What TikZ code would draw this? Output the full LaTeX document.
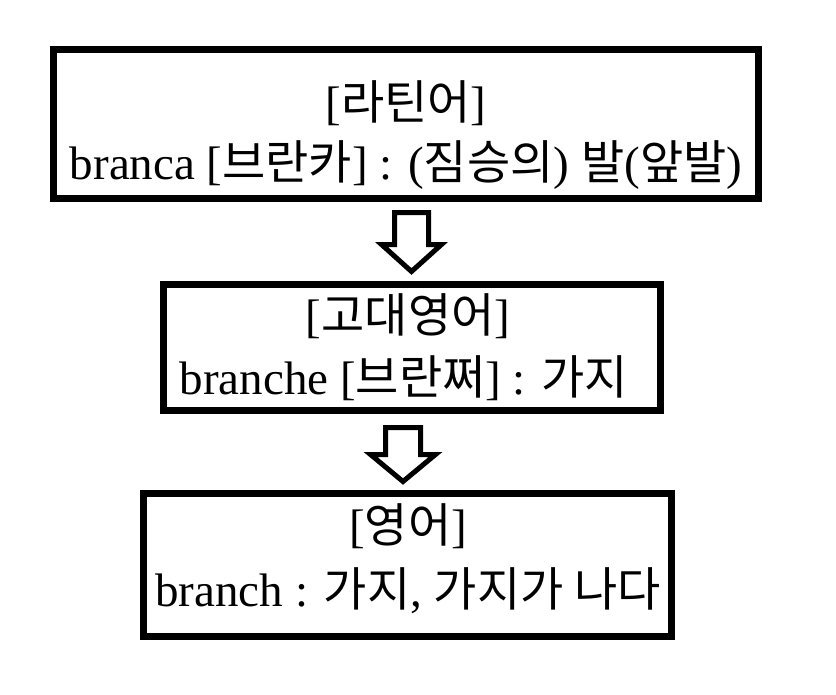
\documentclass[tikz,border=0pt]{standalone}
\usepackage{fontspec}
\setmainfont{Liberation Serif}
\newfontfamily\krfont{Noto Sans CJK KR}
\newcommand{\kr}[1]{{\krfont #1}}
\tikzset{
  etbox/.style={draw=black, line width=7pt, fill=white, inner sep=0pt},
  etline/.style={font=\fontsize{47}{56}\selectfont, inner sep=0pt, anchor=center},
  etarrow/.style={line width=5pt, draw=black, fill=white, line join=miter},
}
\begin{document}
\begin{tikzpicture}[x=1pt, y=-1pt]
\fill[white] (0,0) rectangle (836,694);
\useasboundingbox (0,0) rectangle (836,694);
\node[etbox, minimum width=705pt, minimum height=149pt] (latin) at (406,124) {};
\node[etbox, minimum width=497pt, minimum height=126pt] (oldeng) at (412,347.5) {};
\node[etbox, minimum width=528pt, minimum height=143pt] (eng) at (407.5,565) {};
\node[etline] (latinhead) at (406,103) {[\kr{라틴어}]};
\node[etline] (latinword) at (406,165) {branca [\kr{브란카}] : (\kr{짐승의}) \kr{발}(\kr{앞발})};
\node[etline] (oldenghead) at (408,316) {[\kr{고대영어}]};
\node[etline] (oldengword) at (404,378) {branche [\kr{브란쩌}] : \kr{가지}};
\node[etline] (enghead) at (408,526) {[\kr{영어}]};
\node[etline] (engword) at (408,591) {branch : \kr{가지}, \kr{가지가 나다}};
\coordinate (arrone) at (411.5,212.5);
\coordinate (arrtwo) at (403,427.5);
\draw[etarrow] (arrone) ++(-17,0) -- ++(34,0) -- ++(0,32) -- ++(13,0) -- ++(-30,27) -- ++(-30,-27) -- ++(13,0) -- cycle;
\draw[etarrow] (arrtwo) ++(-17.5,0) -- ++(35,0) -- ++(0,27) -- ++(15,0) -- ++(-32.5,27) -- ++(-32.5,-27) -- ++(15,0) -- cycle;
\end{tikzpicture}
\end{document}
